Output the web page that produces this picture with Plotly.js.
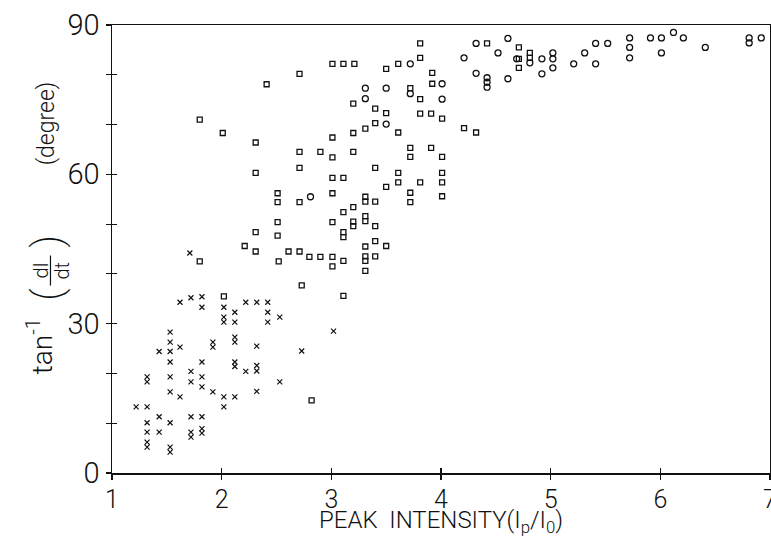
<!DOCTYPE html>
<html>
<head>
<meta charset="utf-8">
<script src="https://cdn.plot.ly/plotly-3.0.1.min.js"></script>
<style>
  html, body { margin: 0; padding: 0; background: #fff; }
  #chart { width: 771px; height: 537px; }
</style>
</head>
<body>
<div id="chart"></div>
<script>
// Group 1 (x markers): low peak intensity events
const crossX = [1.62, 1.72, 1.82, 1.82, 2.02, 2.02, 2.02, 2.12, 2.12, 2.22, 2.32, 2.42, 2.42, 2.42, 2.53,
  1.53, 1.53, 1.43, 1.53, 1.62, 1.53, 1.92, 1.92, 2.12, 2.12, 2.32, 1.82, 1.72, 1.72, 1.82, 1.82,
  2.12, 2.12, 2.22, 2.32, 2.32, 2.53, 2.73, 1.32, 1.32, 1.53, 1.53, 1.62, 1.92, 2.02, 2.12, 2.02,
  2.32, 1.22, 1.32, 1.43, 1.32, 1.53, 1.32, 1.43, 1.72, 1.82, 1.72, 1.72, 1.82, 1.82, 1.32, 1.32,
  1.53, 1.53, 1.71, 3.02];
const crossY = [34.3, 35.2, 35.4, 33.3, 33.3, 31.3, 30.3, 32.3, 30.3, 34.3, 34.3, 34.3, 32.3, 30.3, 31.3,
  28.3, 26.3, 24.4, 24.4, 25.3, 22.3, 26.3, 25.3, 27.3, 26.3, 25.5, 22.3, 20.4, 18.3, 19.3, 17.3,
  22.3, 21.4, 20.4, 21.6, 20.5, 18.3, 24.5, 19.3, 18.3, 19.3, 16.3, 15.3, 16.3, 15.3, 15.3, 13.3,
  16.4, 13.3, 13.3, 11.3, 10.1, 10.1, 8.2, 8.2, 11.3, 11.3, 8.2, 7.2, 8.9, 8.0, 6.2, 5.2,
  5.2, 4.2, 44.2, 28.5];

// Group 2 (square markers): intermediate events
const squareX = [1.80, 2.52, 2.73, 2.02, 2.82, 2.41, 3.20, 3.40, 3.50, 1.80, 3.40, 3.31, 2.01, 3.20, 3.01,
  2.31, 2.71, 2.90, 3.20, 3.01, 2.71, 3.40, 2.31, 3.01, 3.11, 3.50, 2.51, 3.01, 2.51, 2.71, 3.31,
  3.31, 3.40, 3.20, 3.11, 3.31, 3.31, 3.20, 3.20, 2.51, 3.01, 3.40, 2.31, 3.11, 3.11, 2.51, 2.21,
  2.31, 2.61, 2.71, 3.40, 3.50, 3.31, 2.80, 2.90, 3.01, 3.01, 3.11, 3.31, 3.31, 3.40, 3.31, 3.11,
  3.81, 3.01, 3.11, 3.21, 3.50, 3.61, 3.81, 2.71, 3.92, 3.92, 3.72, 3.81, 3.81, 3.91, 4.01, 3.61,
  4.21, 4.32, 3.72, 3.91, 3.72, 4.01, 3.61, 3.61, 3.81, 4.01, 4.01, 3.72, 4.01, 3.72, 4.42, 4.71,
  4.81, 4.81, 4.71, 4.71];
const squareY = [42.5, 42.5, 37.7, 35.5, 14.6, 78.1, 74.2, 73.2, 72.3, 71.0, 70.3, 69.2, 68.3, 68.3, 67.4,
  66.4, 64.5, 64.5, 64.5, 63.4, 61.3, 61.3, 60.3, 59.3, 59.3, 57.5, 56.2, 56.2, 54.4, 54.4, 55.5,
  54.5, 54.5, 53.4, 52.4, 51.6, 50.6, 50.5, 49.6, 50.4, 50.4, 49.6, 48.4, 48.4, 47.4, 47.7, 45.6,
  44.5, 44.5, 44.5, 46.6, 45.6, 45.5, 43.4, 43.4, 43.4, 41.5, 42.6, 43.5, 42.6, 43.5, 40.6, 35.6,
  86.3, 82.2, 82.2, 82.2, 81.2, 82.2, 83.4, 80.2, 80.4, 78.2, 77.3, 75.1, 72.2, 72.2, 71.2, 68.4,
  69.3, 68.4, 65.3, 65.3, 63.5, 63.5, 60.3, 58.4, 58.4, 60.3, 58.4, 56.3, 55.6, 54.4, 86.3, 85.5,
  84.4, 83.4, 83.2, 81.4];

// Group 3 (circle markers): high peak intensity events
const circleX = [2.81, 3.31, 3.50, 3.31, 3.50, 4.32, 3.72, 4.21, 4.32, 4.01, 3.72, 4.01, 4.61, 4.52, 4.81,
  4.92, 5.02, 5.02, 5.02, 4.92, 4.69, 4.42, 4.42, 4.42, 4.61, 5.21, 5.31, 5.41, 5.52, 5.41, 5.72,
  5.72, 5.72, 5.91, 6.01, 6.12, 6.21, 6.01, 6.41, 6.81, 6.81, 6.92];
const circleY = [55.5, 77.3, 77.3, 75.2, 70.1, 86.3, 82.2, 83.4, 80.3, 78.2, 76.2, 75.1, 87.3, 84.4, 82.4,
  83.2, 84.4, 83.2, 81.4, 80.2, 83.2, 79.4, 78.5, 77.5, 79.2, 82.2, 84.4, 86.3, 86.3, 82.2, 87.4,
  85.5, 83.4, 87.4, 87.4, 88.5, 87.4, 84.4, 85.5, 87.4, 86.4, 87.4];

const xTickVals = [1, 2, 3, 4, 5, 6, 7];
const xTickText = ['1', '2', '3', '4', '5', '6', '7'];
const yTickVals = [0, 10, 20, 30, 40, 50, 60, 70, 80, 90];
const yTickText = ['0', '', '', '30', '', '', '60', '', '', '90'];

const INK = '#111';
const FONT = 'Roboto, "DejaVu Sans", sans-serif';

const traces = [
  { type: 'scatter', mode: 'markers', x: crossX, y: crossY, showlegend: false, hoverinfo: 'skip',
    marker: { symbol: 'x-thin-open', size: 5, color: INK, line: { color: INK, width: 1.2 } } },
  { type: 'scatter', mode: 'markers', x: squareX, y: squareY, showlegend: false, hoverinfo: 'skip',
    marker: { symbol: 'square-open', size: 5, color: INK, line: { color: INK, width: 1.3 } } },
  { type: 'scatter', mode: 'markers', x: circleX, y: circleY, showlegend: false, hoverinfo: 'skip',
    marker: { symbol: 'circle-open', size: 6, color: INK, line: { color: INK, width: 1.3 } } },
  // empty trace that hosts the inner tick marks
  { type: 'scatter', mode: 'markers', x: [], y: [], xaxis: 'x2', yaxis: 'y2', showlegend: false, hoverinfo: 'skip' }
];

// rotated pieces of the y-axis title: tan^-1 (dI/dt)  (degree)
function vtext(text, x, y, size, weight) {
  return { text: text, xref: 'paper', yref: 'paper', x: x, y: y, xanchor: 'center', yanchor: 'middle',
    showarrow: false, textangle: -90, font: { family: FONT, size: size, color: INK, weight: weight || 300 } };
}

const layout = {
  width: 771, height: 537,
  margin: { l: 112, r: 1, t: 25, b: 64 },
  paper_bgcolor: '#fff', plot_bgcolor: '#fff',
  showlegend: false,
  xaxis: {
    range: [1, 7], tickmode: 'array', tickvals: xTickVals, ticktext: xTickText,
    ticks: 'outside', ticklen: 5, tickwidth: 1.2, tickcolor: INK, ticklabeloverflow: 'allow',
    ticklabelstandoff: -2,
    showline: true, linecolor: INK, linewidth: 1.5, mirror: true,
    showgrid: false, zeroline: false, tickfont: { family: FONT, size: 25, color: INK, weight: 300 },
    title: { text: 'PEAK  INTENSITY(I<sub>p</sub>/I<sub>0</sub>)', font: { family: FONT, size: 24, color: INK, weight: 300 }, standoff: 8 }
  },
  yaxis: {
    range: [0, 90], tickmode: 'array', tickvals: yTickVals, ticktext: yTickText,
    ticks: 'outside', ticklen: 5, tickwidth: 1.2, tickcolor: INK,
    showline: true, linecolor: INK, linewidth: 1.5, mirror: true,
    showgrid: false, zeroline: false, tickfont: { family: FONT, size: 29, color: INK, weight: 300 }
  },
  xaxis2: {
    overlaying: 'x', range: [1, 7], tickmode: 'array', tickvals: xTickVals, showticklabels: false,
    ticks: 'inside', ticklen: 5, tickwidth: 1.2, tickcolor: INK, showgrid: false, zeroline: false, showline: false
  },
  yaxis2: {
    overlaying: 'y', range: [0, 90], tickmode: 'array', tickvals: yTickVals, showticklabels: false,
    ticks: 'inside', ticklen: 5, tickwidth: 1.2, tickcolor: INK, showgrid: false, zeroline: false, showline: false
  },
  annotations: [
    vtext('(degree)', -0.1003, 0.7806, 23),
    vtext('tan<sup>-1</sup>', -0.1094, 0.283, 28),
    vtext('(', -0.0973, 0.398, 40, 200),
    vtext('dI', -0.1094, 0.452, 20),
    vtext('dt', -0.0775, 0.452, 20),
    vtext(')', -0.0973, 0.519, 40, 200)
  ],
  shapes: [
    // fraction bar of dI/dt
    { type: 'line', xref: 'paper', yref: 'paper', x0: -0.0935, x1: -0.0935, y0: 0.4185, y1: 0.4855,
      line: { color: INK, width: 1.2 } }
  ]
};

Plotly.newPlot('chart', traces, layout, { staticPlot: true, displayModeBar: false });
</script>
</body>
</html>
